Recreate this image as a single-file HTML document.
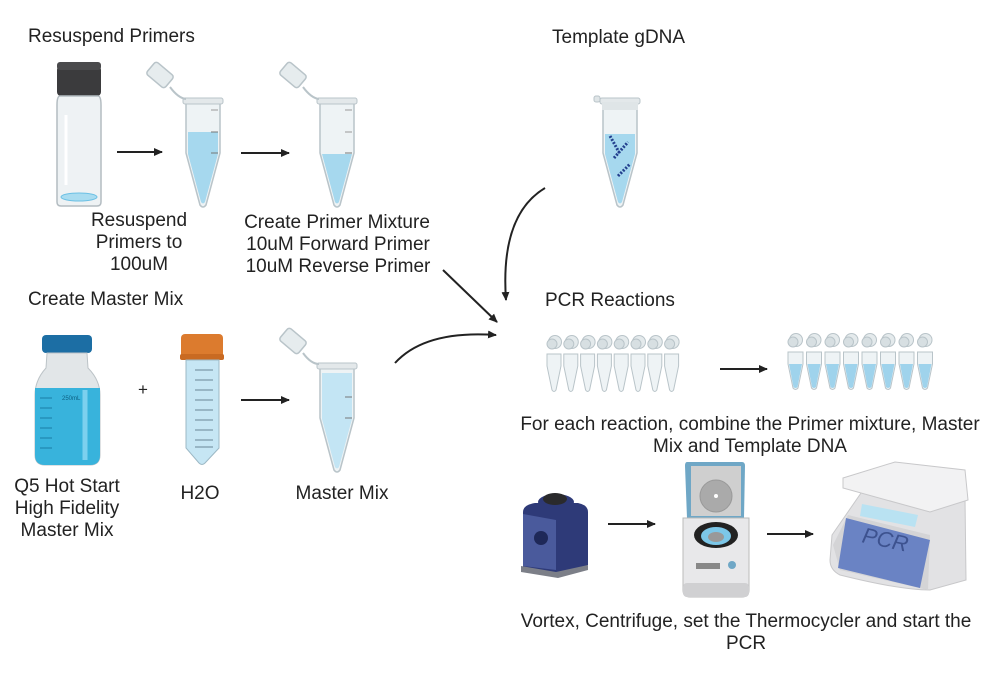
<!DOCTYPE html>
<html><head><meta charset="utf-8"><style>
body{margin:0;background:#fff}
svg{display:block}
text{font-family:"Liberation Sans",sans-serif;font-size:19px;fill:#222}
</style></head><body>
<svg width="1000" height="700" viewBox="0 0 1000 700" xmlns="http://www.w3.org/2000/svg">
<defs>
<marker id="ah" markerWidth="10" markerHeight="10" refX="8" refY="5" orient="auto" markerUnits="userSpaceOnUse">
<path d="M0,1 L9,5 L0,9 Z" fill="#222"/></marker>
<g id="tube">
<path d="M-17,4 L17,4 L17,55 L3,107 Q0,111 -3,107 L-17,55 Z" fill="#eef3f5" stroke="#b9c4c9" stroke-width="1.5"/>
<rect x="-20" y="0" width="40" height="6" rx="2" fill="#e3e8ea" stroke="#b9c4c9"/>
</g>
<g id="lid">
<rect x="-12" y="-8" width="24" height="16" rx="3" fill="#e6ecee" stroke="#b9c4c9" stroke-width="1.5"/>
</g>
<g id="st">
<circle cx="8" cy="-12" r="6.5" fill="#e4eaec" stroke="#b9c4c9"/>
<circle cx="5" cy="-10" r="5" fill="#d7dfe2" stroke="#b9c4c9"/>
<path d="M0,0 L14,0 L14,12 L9,36 Q7,39 5,36 L0,12 Z" fill="#eef3f5" stroke="#b9c4c9"/>
</g>
<g id="stf">
<circle cx="8" cy="-12" r="6.5" fill="#e4eaec" stroke="#b9c4c9"/>
<circle cx="5" cy="-10" r="5" fill="#d7dfe2" stroke="#b9c4c9"/>
<path d="M0,0 L15,0 L15,12 L10,36 Q7.5,39 5,36 L0,12 Z" fill="#eef3f5" stroke="#b9c4c9"/>
<path d="M1,12 L14,12 L9.5,35 Q7.5,37 5.5,35 Z" fill="#9fd3ec"/>
</g>
</defs>

<text x="28" y="42">Resuspend Primers</text>
<text x="552" y="43">Template gDNA</text>
<text x="28" y="305">Create Master Mix</text>
<text x="545" y="306">PCR Reactions</text>

<!-- vial -->
<rect x="57" y="66" width="44" height="30" rx="4" fill="#3b3b3d"/>
<rect x="57" y="62" width="44" height="8" rx="3" fill="#4a4a4c"/>
<path d="M60,96 L98,96 Q101,96 101,105 L101,202 Q101,206 97,206 L61,206 Q57,206 57,202 L57,105 Q57,96 60,96 Z" fill="#eef2f4" stroke="#b3bcc1" stroke-width="1.5"/>
<ellipse cx="79" cy="197" rx="18" ry="4" fill="#a9dcf0" stroke="#6cc0e4"/>
<line x1="66" y1="115" x2="66" y2="185" stroke="#fff" stroke-width="3"/>

<!-- arrows -->
<line x1="117" y1="152" x2="162" y2="152" stroke="#222" stroke-width="2" marker-end="url(#ah)"/>
<line x1="241" y1="153" x2="289" y2="153" stroke="#222" stroke-width="2" marker-end="url(#ah)"/>
<line x1="241" y1="400" x2="289" y2="400" stroke="#222" stroke-width="2" marker-end="url(#ah)"/>
<line x1="720" y1="369" x2="767" y2="369" stroke="#222" stroke-width="2" marker-end="url(#ah)"/>
<line x1="608" y1="524" x2="655" y2="524" stroke="#222" stroke-width="2" marker-end="url(#ah)"/>
<line x1="767" y1="534" x2="813" y2="534" stroke="#222" stroke-width="2" marker-end="url(#ah)"/>

<!-- tube 1 -->
<g transform="translate(203,98)"><use href="#tube"/>
<path d="M-15,34 L15,34 L15,56 L2,104 Q0,107 -2,104 L-15,56 Z" fill="#a6d8ee"/>
<line x1="8" y1="12" x2="15" y2="12" stroke="#999"/><line x1="8" y1="34" x2="15" y2="34" stroke="#777"/><line x1="8" y1="55" x2="15" y2="55" stroke="#777"/></g>
<g transform="translate(160,75) rotate(40)"><use href="#lid"/></g>
<path d="M170,87 Q178,98 186,99" fill="none" stroke="#b9c4c9" stroke-width="2"/>

<!-- tube 2 -->
<g transform="translate(337,98)"><use href="#tube"/>
<path d="M-15,56 L15,56 L2,104 Q0,107 -2,104 L-15,56 Z" fill="#a6d8ee"/>
<line x1="8" y1="12" x2="15" y2="12" stroke="#999"/><line x1="8" y1="34" x2="15" y2="34" stroke="#999"/><line x1="8" y1="55" x2="15" y2="55" stroke="#777"/></g>
<g transform="translate(293,75) rotate(40)"><use href="#lid"/></g>
<path d="M303,87 Q311,98 319,99" fill="none" stroke="#b9c4c9" stroke-width="2"/>

<!-- DNA tube -->
<g transform="translate(620,98)"><use href="#tube"/>
<path d="M-15,36 L15,36 L15,56 L2,104 Q0,107 -2,104 L-15,56 Z" fill="#a6d8ee"/>
<rect x="-18" y="4" width="36" height="8" fill="#dfe5e7"/>
<path d="M-10,38 l10,18 M-6,60 l14,-16 M-2,78 l12,-12" stroke="#23408e" stroke-width="3" stroke-dasharray="2 1.5"/></g>
<rect x="594" y="96" width="6" height="6" rx="2" fill="#dfe5e7" stroke="#b9c4c9"/>

<!-- connectors -->
<path d="M545,188 Q500,215 506,300" fill="none" stroke="#222" stroke-width="2" marker-end="url(#ah)"/>
<path d="M443,270 L497,322" fill="none" stroke="#222" stroke-width="2" marker-end="url(#ah)"/>
<path d="M395,363 Q425,330 496,335" fill="none" stroke="#222" stroke-width="2" marker-end="url(#ah)"/>

<!-- bottle -->
<rect x="42" y="335" width="50" height="18" rx="4" fill="#1c6ea4"/>
<path d="M47,353 L87,353 L88,368 Q100,380 100,395 L100,455 Q100,465 90,465 L45,465 Q35,465 35,455 L35,395 Q35,380 46,368 Z" fill="#e2e6e8" stroke="#bcc3c7"/>
<path d="M35,388 L100,388 L100,455 Q100,465 90,465 L45,465 Q35,465 35,455 Z" fill="#38b3dc"/>
<line x1="85" y1="390" x2="85" y2="460" stroke="#7dd0ee" stroke-width="5"/>
<text x="62" y="400" style="font-size:6px;fill:#0d5f82">250mL</text>
<g stroke="#1a7ea6"><line x1="40" y1="398" x2="52" y2="398"/><line x1="40" y1="408" x2="52" y2="408"/><line x1="40" y1="418" x2="52" y2="418"/><line x1="40" y1="428" x2="52" y2="428"/><line x1="40" y1="438" x2="52" y2="438"/><line x1="40" y1="448" x2="52" y2="448"/></g>
<text x="138" y="395" style="font-size:17px">+</text>

<!-- H2O conical -->
<rect x="181" y="334" width="42" height="24" rx="4" fill="#dc7b2e"/>
<rect x="180" y="354" width="44" height="6" rx="2" fill="#c96a22"/>
<path d="M186,360 L219,360 L219,448 L205,463 Q202,466 199,463 L186,448 Z" fill="#c6e6f4" stroke="#9cb8c5"/>
<g stroke="#6a8796"><line x1="195" y1="370" x2="213" y2="370"/><line x1="195" y1="380" x2="213" y2="380"/><line x1="195" y1="390" x2="213" y2="390"/><line x1="195" y1="400" x2="213" y2="400"/><line x1="195" y1="410" x2="213" y2="410"/><line x1="195" y1="420" x2="213" y2="420"/><line x1="195" y1="430" x2="213" y2="430"/><line x1="195" y1="440" x2="213" y2="440"/><line x1="195" y1="447" x2="213" y2="447"/></g>

<!-- master mix tube -->
<g transform="translate(337,363)"><use href="#tube"/>
<path d="M-15,10 L15,10 L15,56 L2,104 Q0,107 -2,104 L-15,56 Z" fill="#c3e5f4"/>
<line x1="8" y1="34" x2="15" y2="34" stroke="#777"/><line x1="8" y1="55" x2="15" y2="55" stroke="#777"/></g>
<g transform="translate(293,341) rotate(40)"><use href="#lid"/></g>
<path d="M303,353 Q311,364 319,364" fill="none" stroke="#b9c4c9" stroke-width="2"/>

<!-- strips -->
<g transform="translate(547,354)">
<use href="#st" x="0"/><use href="#st" x="16.8"/><use href="#st" x="33.6"/><use href="#st" x="50.4"/><use href="#st" x="67.2"/><use href="#st" x="84"/><use href="#st" x="100.8"/><use href="#st" x="117.6"/></g>
<g transform="translate(788,352)">
<use href="#stf" x="0"/><use href="#stf" x="18.5"/><use href="#stf" x="37"/><use href="#stf" x="55.5"/><use href="#stf" x="74"/><use href="#stf" x="92.5"/><use href="#stf" x="111"/><use href="#stf" x="129.5"/></g>

<!-- vortex -->
<path d="M523,512 Q523,505 535,503 L578,503 Q588,505 588,512 L588,565 L560,575 L523,568 Z" fill="#2e3a78"/>
<path d="M523,514 L556,520 L556,570 L523,566 Z" fill="#4a5a9c"/>
<ellipse cx="556" cy="502" rx="18" ry="8" fill="#2e3a78"/>
<ellipse cx="555" cy="499" rx="12" ry="6" fill="#2a2a2c"/>
<circle cx="541" cy="538" r="7" fill="#1e2858"/>
<path d="M521,566 L556,572 L588,565 L588,570 L558,578 L521,572 Z" fill="#7c7f88"/>

<!-- centrifuge -->
<path d="M687,462 L742,462 Q745,462 745,466 L744,518 L687,518 L685,466 Q685,462 687,462 Z" fill="#6fa7c6"/>
<rect x="691" y="466" width="50" height="50" fill="#cfcfcf"/>
<circle cx="716" cy="496" r="16" fill="#aaa" stroke="#999"/><circle cx="716" cy="496" r="2" fill="#fff"/>
<path d="M683,518 L749,518 L749,590 Q749,597 742,597 L690,597 Q683,597 683,590 Z" fill="#e8e8ea" stroke="#bbb"/>
<ellipse cx="716" cy="535" rx="22" ry="13" fill="#222"/>
<ellipse cx="716" cy="536" rx="15" ry="9" fill="#7cc7e8"/>
<ellipse cx="716" cy="537" rx="8" ry="5" fill="#999"/>
<rect x="696" y="563" width="24" height="6" fill="#888"/>
<circle cx="732" cy="565" r="4" fill="#6fa7c6"/>
<rect x="683" y="583" width="66" height="14" rx="4" fill="#d0d0d2"/>

<!-- thermocycler -->
<path d="M832,535 L870,480 L965,498 L966,580 L930,590 Q900,590 840,575 Q830,570 830,560 Z" fill="#e2e2e4" stroke="#c8c8ca"/>
<path d="M848,515 L930,535 L928,590 L840,570 L833,545 Z" fill="#d4d4d6"/>
<path d="M846,518 L930,540 L920,588 L838,568 Z" fill="#6a83c4"/>
<path d="M862,504 L918,515 L915,527 L860,516 Z" fill="#b9e2f2"/>
<text x="862" y="546" transform="rotate(12 880 540)" style="font-size:22px;font-style:italic;fill:#3d528f">PCR</text>
<path d="M843,478 L895,462 L965,470 L968,500 L930,512 L843,488 Z" fill="#f2f2f3" stroke="#c8c8ca"/>

<!-- labels -->
<g text-anchor="middle">
<text x="139" y="226">Resuspend</text><text x="139" y="248">Primers to</text><text x="139" y="270">100uM</text>
<text x="337" y="228">Create Primer Mixture</text><text x="338" y="250">10uM Forward Primer</text><text x="338" y="272">10uM Reverse Primer</text>
<text x="67" y="492">Q5 Hot Start</text><text x="67" y="514">High Fidelity</text><text x="67" y="536">Master Mix</text>
<text x="200" y="499">H2O</text>
<text x="342" y="499">Master Mix</text>
<text x="750" y="430">For each reaction, combine the Primer mixture, Master</text>
<text x="750" y="452">Mix and Template DNA</text>
<text x="746" y="627">Vortex, Centrifuge, set the Thermocycler and start the</text>
<text x="746" y="649">PCR</text>
</g>
</svg>
</body></html>
